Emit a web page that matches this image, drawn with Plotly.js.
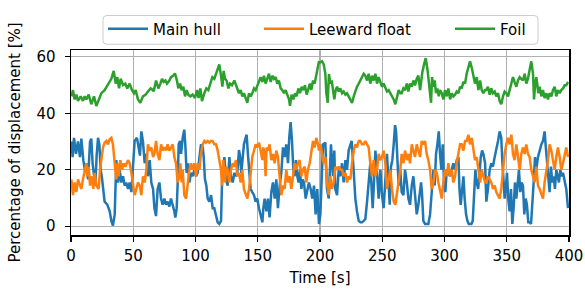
<!DOCTYPE html>
<html>
<head>
<meta charset="utf-8">
<script src="https://cdn.plot.ly/plotly-3.0.1.min.js"></script>
<style>html,body{margin:0;padding:0;background:#fff;}#chart{width:585px;height:292px;}</style>
</head>
<body>
<div id="chart"></div>
<script>
// ---- data ----
const seriesNames = ["Main hull", "Leeward float", "Foil"];
const xTickVals = [0, 50, 100, 150, 200, 250, 300, 350, 400];
const xTickText = ["0", "50", "100", "150", "200", "250", "300", "350", "400"];
const yTickVals = [0, 20, 40, 60];
const yTickText = ["0", "20", "40", "60"];

const mainT = [0.3,1.3,2.4,4,5.6,7.2,8.3,9.9,11.5,12.6,13.7,15.3,16.3,17.4,18.5,19.5,20.6,21.7,22.8,23.8,24.9,26,27,29.2,31.1,32.4,33.7,35.1,36.4,37.8,39.1,40.4,41.8,43.1,44.4,45.8,47.1,48.5,49.8,51.1,53,54.4,55.4,56.5,57.8,59.2,60.5,61.8,63.2,64.5,65.9,
  67,68.3,69.6,71,72.3,73.6,75,76.3,77.6,79,80.3,81.7,83,83.8,84.9,85.7,86.5,87.6,88.4,89.7,91,91.8,92.9,94,95.1,96.4,97.7,99.1,100.4,101.7,103.1,104.4,105.8,106.6,107.6,108.7,109.8,111.1,112.5,113.8,115.1,116.5,117.8,119.1,120.5,121.3,122.4,123.2,124.5,125.8,127.2,128.5,129.9,131.2,132.5,
  133.6,134.9,135.7,136.8,137.9,138.9,140.3,141.1,142.1,143.2,144.3,145.6,147,148.3,149.6,151,152.3,153.7,154.5,155.5,156.9,158.2,159.5,160.9,162.2,163.6,164.9,166.2,167.6,168.9,170.3,171.6,172.9,174.3,175.3,176.4,177.5,178.6,179.6,180.7,181.8,182.8,183.9,185,186.1,187.1,188.5,189.8,191.1,192.5,193.8,195.2,196.5,197.8,199.2,
  200.3,202.4,204.3,205.6,207,208.8,210.4,211.5,212.3,213.7,215,216.3,217.7,219,220.4,221.7,223,224.4,225.4,226.5,227.6,228.4,229.7,231.1,232.4,233.7,235.1,236.4,237.8,239.1,240.4,241.2,242.3,243.1,244.5,245.8,247.1,248.5,249.8,251.1,252.5,253.8,255.2,256,257,258.1,259.2,260.3,261.1,261.9,263.2,264.5,
  265.6,267,268.3,269.7,271,272.3,273.7,275,276.3,277.7,279,280.4,281.2,282,283,284.4,285.7,287,288.4,289.7,291.1,292.1,293.2,294.3,295.4,296.4,297.5,298.6,299.6,300.7,301.8,303.1,304.5,305.8,307.1,308.5,309.8,311.2,312,313,314.1,315.2,316.2,317.3,318.4,319.5,320.5,321.6,322.7,323.7,324.8,325.9,327,328,329.1,330.2,331.2,332.6,
  333.6,334.9,336.3,337.6,338.9,340.3,341.6,343,344.3,345.6,346.4,347.5,348.3,349.1,350.2,351.2,352.3,353.4,354.5,355.5,356.6,357.7,358.7,359.8,360.9,361.9,363,364.1,365.2,366.2,367.3,368.4,369.5,370.5,371.6,372.7,373.7,375.1,376.4,377.8,379.1,380.4,381.2,382.3,383.4,384.4,385.5,386.6,387.7,388.7,389.8,390.9,391.9,393,394.1,395.2,396.5,397.8,399.2];
const mainV = [30,24.5,31.3,25.6,30,24.5,31,23.4,18.9,22.3,16.6,30,31,22,18,14.4,25,31.3,29,20,17,13.2,8.7,7.6,5.3,1.9,0.2,4.2,23.4,15.5,20,15.5,17.7,14.4,15.5,13.2,15.5,12.1,23.4,30.2,31.3,28,25,33.6,30,22.3,25.6,17.7,23.4,15.5,13.2,
  6.4,3.6,13.2,15.5,9.8,7.6,9.8,7.6,8.7,7,9.8,7.6,5.3,3.1,6.4,15.5,29,30.2,25.6,31.3,34.2,29,18.9,22.3,15.5,18.9,17.7,20,17.7,18.9,23.4,29,28,24.5,16.6,14.4,9.8,8.7,11,6.4,6.4,3.1,1.4,0.8,1.9,15.5,20,24.5,16.6,14.4,24.5,17.7,15.5,18.9,17.7,
  18.9,27,25.1,18.9,23.4,29,31.3,32.4,25.6,17.7,13.2,12.1,11,8.7,9.8,6.4,4.2,1.4,6.4,9.8,5.3,9.8,3.1,12.1,15.5,9.8,16.6,6.4,14.4,18.9,27.9,24.5,29,22.3,31.3,36.9,30.2,20,17.7,23.4,17.7,15.5,20,13.2,16.6,15.5,9.8,13.2,15.5,13.2,9.8,14.4,4.2,13.2,0.8,
  4.2,29,29.6,13.2,9.8,29,17.7,26.8,13.2,11,20,17.7,22.3,15.5,23.4,20,26.8,29,30.2,23.4,15.5,9.8,5.3,1.9,1.4,1.4,1.9,2.5,8.7,15.5,22.3,15.5,6.4,13.2,26.8,18.9,9.8,20,11,6.4,15.5,25.6,14.4,7.6,21.1,23.4,29,35.8,33.6,23.4,14.4,20,
  12.1,11,20,15.5,9.8,7.6,14.4,17.7,11,4.2,7.6,13.2,15.5,11,1.9,0.8,0.8,0.8,4.2,13.2,20,14.4,25.6,29,33.6,25.6,20,29,15.5,12.1,20,18.9,17.7,20,22.3,20,23.4,24.5,13.2,7.6,13.2,17.7,9.8,4.2,1.9,0.8,0.8,0.8,1.9,12.1,20,15.5,13.2,17.7,24.5,26.8,25.6,22.3,
  8.7,13.2,20,22.3,21.1,24.5,26.8,30.2,33.6,31.3,23.4,15.5,9.8,13.2,18.9,9.8,5.3,13.2,0.8,6.4,15.5,9.8,15.5,20,12.1,15.5,14.4,4.2,9.8,7.6,1.4,1.4,0.8,6.4,15.5,24.5,20,24.5,26.8,29,30.2,33.6,29,23.4,18.9,12.1,21.1,15.5,17.7,13.2,20,17.7,15.5,20,17.7,18.9,16.6,13.2,6.4];

const leeT = [0.3,1.6,2.9,4.3,5.6,7,8.3,9.6,11,12.3,13.1,14.2,15.3,16.9,17.9,19,20.3,22.2,23.3,24.4,25.7,27,28.4,29.7,31.1,32.4,33.7,35.1,36.4,37.2,38.3,39.6,41,42.3,43.6,45.8,47.1,48.5,49.8,51.1,52.5,53.8,55.2,56.5,57.8,59.2,60.5,61.8,63.2,64.5,65.9,
  67,68.3,69.6,71,72.3,73.6,75,76.3,77.6,79,80.3,81.7,83,84.3,85.7,87,87.8,88.9,89.7,91,92.4,93.7,95.1,96.4,97.7,99.1,100.4,101.7,103.1,104.4,105.8,107.1,108.4,109.8,111.1,112.5,113.8,115.1,116.5,117.8,119.1,120.5,121.3,122.4,123.7,124.8,125.8,127.2,128.5,129.9,131.2,132.5,
  133.6,134.9,136.3,137.6,138.9,140.3,141.6,143,144.3,145.6,147,148.3,149.6,151,152.3,153.7,154.5,155.5,156.3,157.1,158.2,159.5,160.9,162.2,163.6,164.9,166.2,167.6,168.9,170.3,171.6,172.9,174.3,175.6,177,178.3,179.6,181,182.3,183.6,185,186.3,187.7,189,190.3,191.7,193,194.4,195.7,197,198.4,199.2,
  200.3,201.6,203,204.3,205.6,207,208.3,209.6,211,212.3,213.7,215,216.3,217.7,219,220.4,221.7,223,224.4,225.7,227.1,228.4,229.7,231.1,232.4,233.7,235.1,236.4,237.8,239.1,240.4,241.8,243.1,244.5,245.8,247.1,248.5,249.8,251.1,252.5,253.8,255.2,256.5,257.8,259.2,260.5,261.9,263.2,264.5,
  265.6,267,268.3,269.7,271,272.3,273.7,275,276.3,277.7,279,280.4,281.7,283,284.4,285.7,287,288.4,289.7,291.1,292.4,293.8,295.1,296.4,297.8,299.1,300.4,301.8,303.1,304.5,305.8,307.1,308.5,309.8,311.2,312.5,313.8,315.2,316.5,317.8,319.2,320.5,321.9,323.2,324.5,325.9,327.2,328.6,329.9,331.2,332.6,
  333.6,334.9,336.3,337.6,338.9,340.3,341.6,343,344.3,345.6,347,348.3,349.6,351,352.3,353.7,355,356.3,357.7,359,360.4,361.7,363,364.4,365.7,367,368.4,369.7,371.1,372.4,373.7,375.1,376.4,377.8,379.1,380.4,381.8,383.1,384.4,385.8,387.1,388.5,389.8,391.1,392.5,393.8,395.2,396.5,397.8,399.2];
const leeV = [16.6,11,15.5,12.1,16.6,14.4,13.2,16.6,20,22.3,17.7,21,14.4,17.7,13.2,18.9,14.4,13.2,20,23.4,27.9,29.6,30.2,29,30.8,31.3,29,22.3,16.6,22.3,17.7,23.4,20,22.3,21.1,23.4,22.3,18.9,15.5,11,13.2,15.5,14.4,11,17.7,15.5,20,29,26.8,27.9,24.5,
  25.6,30.2,25.6,23.4,29,26.8,27.9,26.8,29,26.8,27.9,29,24.5,22.3,15.5,17.7,22.3,15.5,20,11,9.8,15.5,20,22.3,20,22.3,17.7,22.3,20,25.6,29,30.2,29.6,30.2,29.6,30.2,30.2,29,29,26.8,23.4,20,14.4,23.4,15.5,21.1,20,15.5,20,22.3,21.1,23.4,
  17.7,18.9,15.5,20,13.2,11,9.8,13.2,20,24.5,26.8,29,27.9,29.6,26.8,23.4,27.9,25.6,17.7,27.9,26.8,29,23.4,25.6,22.3,26.8,24.5,17.7,11,14.4,13.2,20,15.5,17.7,13.2,17.7,22.3,20,22.3,23.4,17.7,20,21.1,15.5,20,22.3,25.6,30.2,27.9,31.3,29,26.8,
  29,25.6,22.3,24.5,15.5,11,17.7,13.2,15.5,21.1,20,21.1,20,20,17.7,18.9,15.5,17.7,16.6,22.3,26.8,29,27.9,30.2,30.2,29,29,30.2,29,27.9,22.3,17.7,23.4,17.7,20,25.6,23.4,24.5,26.8,22.3,13.2,17.7,20,13.2,8.7,7.6,12.1,16.6,20,
  25.6,22.3,26.8,23.4,25.6,22.3,29,26.8,24.5,29,26.8,24.5,30.2,29,30.2,25.6,23.4,20,13.2,15.5,20,18.9,15.5,12.1,9.8,15.5,20,17.7,22.3,17.7,20,15.5,17.7,22.3,25.6,29,29,26.8,30.2,30.2,32.4,29,31.3,26.8,23.4,24.5,20,15.5,20,17.7,15.5,
  15.5,17.7,16.6,15.5,13.2,14.4,12.1,11,9.8,13.2,20,25.6,29,31.3,29,32.4,25.6,23.4,29,24.5,20,25.6,27.9,25.6,29,25.6,24.5,20,17.7,15.5,21.1,14.4,13.2,11,9.8,15.5,18.9,23.4,29,26.8,23.4,20,24.5,27.9,24.5,20,22.3,25.6,27.9,24.5];

const foilT = [0.3,1.6,2.9,4.3,5.6,7.8,9.6,11,12.3,14.2,16.3,18.5,20.3,22.2,24.4,27,29.2,31.1,32.4,34.3,35.9,37.2,38.6,39.9,41.8,43.6,45.2,47.1,49,50.6,51.9,53.8,55.7,57.8,60,61.8,64,65.9,
  66.4,68.3,70.2,71.8,73.1,74.4,75.8,77.1,79,80.3,82,83.5,85.1,86.2,87.6,88.9,90.2,91.6,92.9,94.2,95.9,97.7,99.6,101.2,102.5,103.9,105.2,107.1,108.7,110.3,111.9,113.5,115.1,116.7,117.8,119.1,120.5,121.6,122.6,123.7,125,126.4,127.7,129.3,131.2,
  133.6,134.9,136.3,137.6,138.9,140.3,141.6,143,144.3,145.6,147,148.3,149.6,151,152.3,153.7,155,156.3,157.7,159,160.4,161.7,163,164.4,165.7,167,168.4,169.7,171.1,172.4,173.7,175.1,175.9,177.2,178.6,179.9,181.2,182.6,183.9,185.3,186.6,187.9,189.3,190.6,191.9,193,194.4,195.7,196.8,197.8,199.2,
  199.7,201.6,203,204.3,205.1,206.2,207.2,208.3,209.4,210.5,211.5,212.6,213.7,215,216.3,217.7,219,220.4,221.7,223,224.4,225.7,227.1,228.4,229.7,231.1,232.4,233.7,235.1,236.4,237.8,239.1,240.4,241.8,243.1,244.5,245.8,247.1,248.5,249.8,251.1,252.5,253.8,255.2,256.5,257.8,259.2,260.5,261.9,263.2,264.5,
  265.6,267,268.3,269.7,271,272.3,273.7,275,276.3,277.7,279,280.4,281.2,282.2,283.6,284.9,286.3,287.3,288.4,289.2,290,291.1,292.1,293.2,294.3,295.4,296.4,297.8,299.1,300.4,301.8,303.1,304.5,305.8,307.1,308.5,309.8,311.2,312.5,313.8,315.2,316.5,317.8,319.2,320.5,321.9,323.2,324.5,325.9,327.2,328.6,329.9,331.2,332.6,
  333.6,334.9,336.3,337.6,338.9,340.3,341.6,343,344.3,345.6,347,348.3,349.6,351,352.3,353.7,355,356.3,357.7,359,360.4,361.7,363,364.4,365.7,367,368.4,369.7,371.1,371.9,372.7,373.7,374.5,375.3,376.4,377.8,379.1,380.4,381.8,383.1,384.4,385.8,387.1,388.5,389.8,391.1,392.5,393.8,395.2,396.5,397.8,399.2];
const foilV = [46,48.2,44.9,46.6,44.4,46,44.4,46,44.9,46.6,43.2,46,42.6,44.9,47.1,48.2,49.9,51.6,52.2,55,50.5,52.8,48.8,52.2,50,50.5,48.8,50.5,48.2,47.1,48.2,44.9,43.7,46,46.6,47.7,48.8,48.2,
  47.7,51.6,48.8,50.5,52.2,51.1,51.6,50.5,51.6,52.8,53.3,54.1,51.6,48.8,50.5,48.2,49.4,46,48.2,46.6,46,46.6,45.4,48.2,45.4,48.8,44.3,47.1,48.8,48.2,50.5,52.8,52.2,54.5,55.6,57.3,53.3,49.4,55,52.2,51.6,48.8,50.5,49.9,51.6,
  48.8,47.1,48.2,46,47.1,44.9,43.7,47.1,46,47.1,48.8,48.2,49.9,51.6,52.8,51.1,53.3,50.5,52.2,54,51.1,53.3,52.2,52.8,50.5,51.6,48.8,48.2,47.1,48.2,46.6,44.9,42.6,46.6,44.9,47.1,46,48.8,47.1,49.4,48.2,49.9,46.6,48.8,50.5,48.2,51.6,50.5,52.8,56.1,58.4,
  57.9,58.4,57.3,53.9,47.1,43.7,53.9,50.5,51.6,47.1,44.9,48.2,49.4,47.7,48.8,47.1,47.7,46.6,47.1,46,44.9,43.7,46,48.2,49.4,50.5,51.6,52.8,54,53.3,51.6,54,50.5,53.3,51.6,54,50.5,52.8,51.1,49.4,50.5,48.8,47.7,48.2,47.1,46,44.9,43.2,46,48.2,47.1,
  47.1,48.8,48.2,50.5,47.7,50.5,49.4,51.6,49.9,52.2,53.3,48.2,51.6,54.5,57.3,59.5,55.6,51.6,44.9,43.7,52.8,49.4,51.6,47.1,48.8,46,48.2,47.1,44.9,48.2,46,48.8,44.9,47.1,46,46.6,47.7,47.1,49.4,48.8,51.1,50.5,54,56.1,58.4,56.1,52.8,50.5,52.8,48.2,51.6,48.2,47.1,48.2,
  48.2,49.4,46.6,48.8,47.1,47.7,46,47.1,44.3,43.2,46,47.7,47.1,46,48.2,50.5,52.8,51.1,49.4,51.6,52.8,52.2,51.6,54,50.5,52.2,55,58.4,54,44.9,49.4,52.8,50.5,47.1,49.4,46,48.2,45.4,47.1,44.9,47.1,46,48.2,49.4,46,48.2,47.1,48.2,48.8,49.9,49.9,51.1];

// ---- styling ----
const colors = ["#1f77b4", "#ff7f0e", "#2ca02c"];
const W = 585, H = 292;
const M = {l: 71, r: 16, t: 42, b: 57};
const pw = W - M.l - M.r, ph = H - M.t - M.b;
const px2x = p => (p - M.l) / pw;          // pixel -> paper x
const py2y = p => (H - M.b - p) / ph;      // pixel -> paper y

const font = {family: "DejaVu Sans, sans-serif", size: 15, color: "#000"};

const traces = [
  {x: mainT, y: mainV, name: seriesNames[0], legend: "legend"},
  {x: leeT, y: leeV, name: seriesNames[1], legend: "legend2"},
  {x: foilT, y: foilV, name: seriesNames[2], legend: "legend3"}
].map((t, i) => Object.assign(t, {type: "scatter", mode: "lines", line: {color: colors[i], width: 2.5}}));

const legendBase = {orientation: "h", bgcolor: "rgba(0,0,0,0)", borderwidth: 0, font: font,
  xanchor: "left", yanchor: "middle", y: py2y(20), itemwidth: 40};

const axisBase = {showline: true, mirror: true, linecolor: "#000", linewidth: 1.5,
  ticks: "outside", ticklen: 5, tickwidth: 1.3, tickcolor: "#000",
  showgrid: true, gridcolor: "#b0b0b0", gridwidth: 1.4, zeroline: false,
  tickfont: font, fixedrange: true};

// rounded legend frame
const bx0 = px2x(103), bx1 = px2x(538), by0 = py2y(36), by1 = py2y(6);
const rx = 4 / pw, ry = 4 / ph;
const framePath = `M ${bx0 + rx},${by1} L ${bx1 - rx},${by1} Q ${bx1},${by1} ${bx1},${by1 - ry} L ${bx1},${by0 + ry} Q ${bx1},${by0} ${bx1 - rx},${by0} L ${bx0 + rx},${by0} Q ${bx0},${by0} ${bx0},${by0 + ry} L ${bx0},${by1 - ry} Q ${bx0},${by1} ${bx0 + rx},${by1} Z`;

const layout = {
  width: W, height: H, margin: M,
  paper_bgcolor: "#fff", plot_bgcolor: "#fff", font: font,
  showlegend: true,
  xaxis: Object.assign({}, axisBase, {range: [0, 400], tickmode: "array", tickvals: xTickVals, ticktext: xTickText,
    ticklabelstandoff: 1,
    title: {text: "Time [s]", font: font, standoff: 9}}),
  yaxis: Object.assign({}, axisBase, {range: [-3.1, 62.4], tickmode: "array", tickvals: yTickVals, ticktext: yTickText,
    ticklabelstandoff: 6,
    title: {text: "Percentage of displacement [%]", font: font, standoff: 12}}),
  legend: Object.assign({}, legendBase, {x: px2x(103)}),
  legend2: Object.assign({}, legendBase, {x: px2x(259)}),
  legend3: Object.assign({}, legendBase, {x: px2x(450)}),
  shapes: [{type: "path", xref: "paper", yref: "paper", path: framePath,
    line: {color: "#cccccc", width: 1}, fillcolor: "rgba(255,255,255,0.8)", layer: "below"}]
};

Plotly.newPlot("chart", traces, layout, {staticPlot: true, displayModeBar: false});
</script>
</body>
</html>
